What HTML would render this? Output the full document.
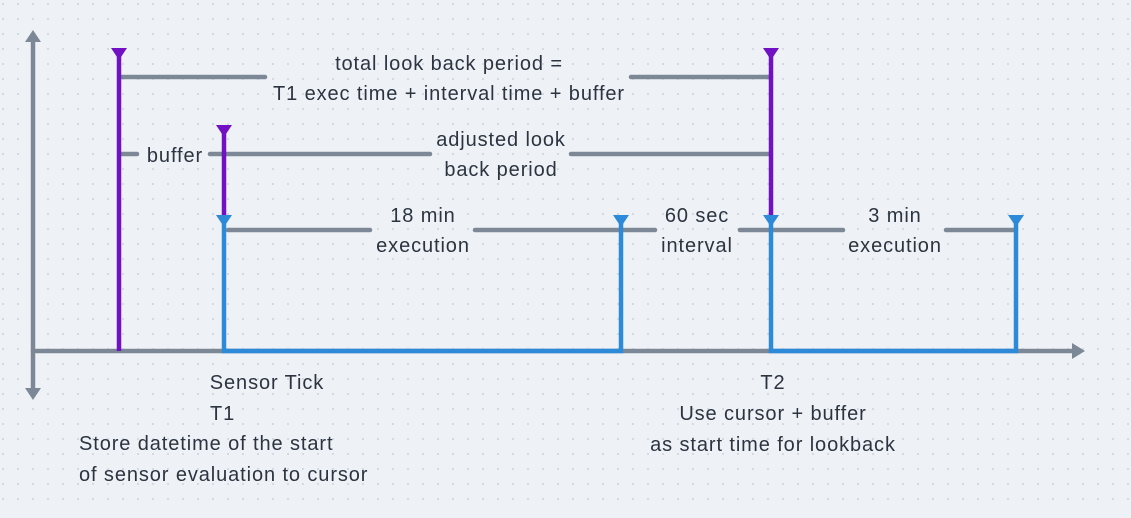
<!DOCTYPE html>
<html><head><style>
body{margin:0;width:1131px;height:513px;overflow:hidden;background:#eef2f6;}
svg text{font-family:"Liberation Sans","DejaVu Sans",sans-serif;font-size:20px;letter-spacing:0.9px;fill:#2b3440;text-anchor:middle;}
</style></head><body>
<svg width="1131" height="513" xmlns="http://www.w3.org/2000/svg">
<defs><pattern id="d" width="15" height="15" patternUnits="userSpaceOnUse" x="2" y="3"><circle cx="1" cy="1" r="1" fill="#ccd3dc"/></pattern></defs>
<rect width="1131" height="513" fill="#eef2f6"/>
<rect width="1131" height="513" fill="url(#d)"/>
<g stroke="#7c8896" stroke-width="4.5" stroke-linecap="round" fill="none">
<line x1="33" y1="40" x2="33" y2="390"/>
<line x1="33" y1="351" x2="1075" y2="351"/>
<line x1="122" y1="77" x2="265" y2="77"/><line x1="631" y1="77" x2="771" y2="77"/>
<line x1="121" y1="154" x2="137" y2="154"/><line x1="210" y1="154" x2="430" y2="154"/><line x1="571" y1="154" x2="771" y2="154"/>
<line x1="228" y1="230" x2="370" y2="230"/><line x1="475" y1="230" x2="655" y2="230"/><line x1="740" y1="230" x2="843" y2="230"/><line x1="946" y1="230" x2="1016" y2="230"/>
</g>
<g fill="#7c8896"><polygon points="33,30 25,42 41,42"/><polygon points="33,400 25,388 41,388"/><polygon points="1085,351 1072,343 1072,359"/></g>
<g stroke="#2d8ad8" stroke-width="4.5" fill="none">
<polyline points="224,217 224,351 621,351 621,217"/>
<polyline points="771,217 771,351 1016,351 1016,217"/>
</g>
<g fill="#2d8ad8"><polygon points="216,215 232,215 224,227"/><polygon points="613,215 629,215 621,227"/><polygon points="763,215 779,215 771,227"/><polygon points="1008,215 1024,215 1016,227"/></g>
<g stroke="#7210c4" stroke-width="4.5"><line x1="119" y1="50" x2="119" y2="351"/><line x1="224" y1="127" x2="224" y2="215"/><line x1="771" y1="50" x2="771" y2="215"/></g>
<g fill="#7210c4"><polygon points="111,48 127,48 119,60"/><polygon points="216,125 232,125 224,137"/><polygon points="763,48 779,48 771,60"/></g>
<text x="449" y="70">total look back period =</text>
<text x="449" y="100">T1 exec time + interval time + buffer</text>
<text x="175" y="162">buffer</text>
<text x="501" y="146">adjusted look</text>
<text x="501" y="176">back period</text>
<text x="423" y="222">18 min</text>
<text x="423" y="252">execution</text>
<text x="697" y="222">60 sec</text>
<text x="697" y="252">interval</text>
<text x="895" y="222">3 min</text>
<text x="895" y="252">execution</text>
<text x="267" y="389">Sensor Tick</text>
<text x="210" y="420" style="text-anchor:start">T1</text>
<text x="79" y="450" style="text-anchor:start">Store datetime of the start</text>
<text x="79" y="481" style="text-anchor:start">of sensor evaluation to cursor</text>
<text x="773" y="389">T2</text>
<text x="773" y="420">Use cursor + buffer</text>
<text x="773" y="451">as start time for lookback</text>
</svg>
</body></html>
